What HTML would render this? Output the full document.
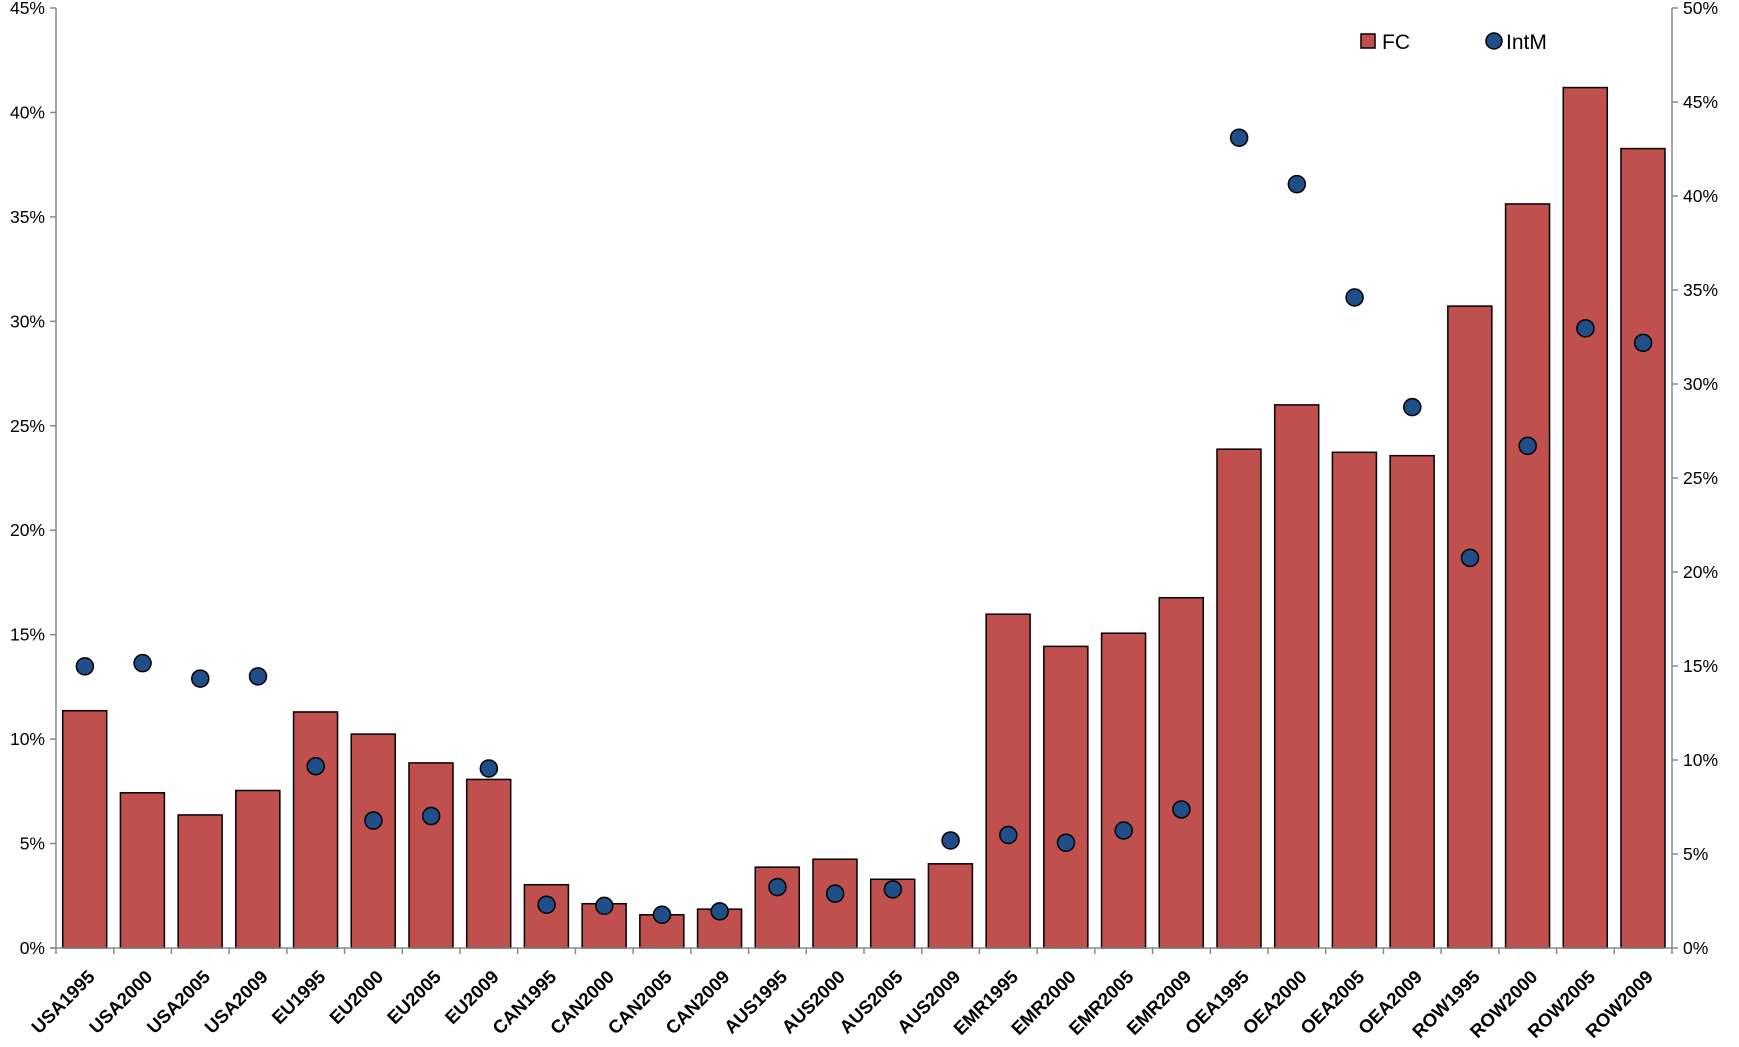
<!DOCTYPE html>
<html><head><meta charset="utf-8"><style>
html,body{margin:0;padding:0;background:#fff;}
svg text{font-family:"Liberation Sans",Arial,sans-serif;}
</style></head><body>
<svg id="c" width="1739" height="1042" xmlns="http://www.w3.org/2000/svg"></svg>
<script>
const L=56,R=1672,T=8,B=948,H=B-T;
const cats=["USA1995","USA2000","USA2005","USA2009","EU1995","EU2000","EU2005","EU2009","CAN1995","CAN2000","CAN2005","CAN2009","AUS1995","AUS2000","AUS2005","AUS2009","EMR1995","EMR2000","EMR2005","EMR2009","OEA1995","OEA2000","OEA2005","OEA2009","ROW1995","ROW2000","ROW2005","ROW2009"];
const fc=[11.36,7.43,6.37,7.54,11.3,10.24,8.86,8.07,3.03,2.12,1.59,1.86,3.87,4.25,3.29,4.03,15.98,14.44,15.07,16.77,23.88,26.0,23.73,23.57,30.73,35.62,41.19,38.27];
const im=[14.98,15.15,14.33,14.45,9.67,6.78,7.02,9.55,2.3,2.24,1.77,1.95,3.24,2.89,3.12,5.72,6.01,5.6,6.25,7.37,43.1,40.63,34.6,28.77,20.75,26.71,32.96,32.19];
const cw=(R-L)/cats.length;
let s='';
s+=`<line x1="${L}" y1="${T}" x2="${L}" y2="${B}" stroke="#888" stroke-width="1.5"/>`;
s+=`<line x1="${R}" y1="${T}" x2="${R}" y2="${B}" stroke="#888" stroke-width="1.5"/>`;
for(let i=0;i<=9;i++){const y=B-H*i/9;s+=`<line x1="${L-6}" y1="${y}" x2="${L}" y2="${y}" stroke="#888" stroke-width="1.5"/><text x="${L-11}" y="${y+6}" font-size="17.5" text-anchor="end" fill="#000">${i*5}%</text>`;}
for(let i=0;i<=10;i++){const y=B-H*i/10;s+=`<line x1="${R}" y1="${y}" x2="${R+6}" y2="${y}" stroke="#888" stroke-width="1.5"/><text x="${R+11}" y="${y+6}" font-size="17.5" fill="#000">${i*5}%</text>`;}
cats.forEach((c,i)=>{const x0=L+i*cw;const h=H*fc[i]/45;
s+=`<rect x="${x0+6.7}" y="${B-h}" width="44" height="${h}" fill="#c0504d" stroke="#000" stroke-width="1.5"/>`;
const cx=x0+cw/2;
s+=`<text transform="translate(${cx+11},${B+30}) rotate(-45)" font-size="18.5" font-weight="bold" text-anchor="end" fill="#000">${c}</text>`;
});
for(let i=0;i<=cats.length;i++){const x=L+i*cw;s+=`<line x1="${x}" y1="${B}" x2="${x}" y2="${B+6}" stroke="#888" stroke-width="1.5"/>`;}
s+=`<line x1="${L-6}" y1="${B}" x2="${R}" y2="${B}" stroke="#888" stroke-width="1.5"/>`;
cats.forEach((c,i)=>{const cx=L+i*cw+cw/2;const y=B-H*im[i]/50;
s+=`<circle cx="${cx}" cy="${y}" r="8.5" fill="#1f4e89" stroke="#000" stroke-width="1.5"/>`;});
s+=`<rect x="1361" y="34" width="14" height="14" fill="#c0504d" stroke="#000" stroke-width="1.5"/><text x="1382" y="49" font-size="21" fill="#000">FC</text>`;
s+=`<circle cx="1494" cy="41" r="8" fill="#1f4e89" stroke="#000" stroke-width="1.5"/><text x="1506" y="49" font-size="21" fill="#000">IntM</text>`;
document.getElementById('c').innerHTML=s;
</script>
</body></html>
